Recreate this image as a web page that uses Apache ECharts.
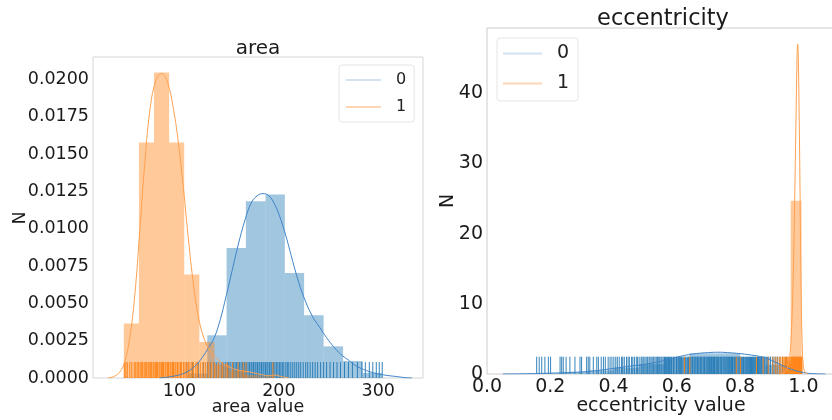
<!DOCTYPE html>
<html lang="en">
<head>
<meta charset="UTF-8">
<title>area / eccentricity</title>
<script src="https://cdn.jsdelivr.net/npm/echarts@6/dist/echarts.min.js"></script>
<style>
    *{margin:0;padding:0;}
    html,body{width:100%;height:100%;overflow:hidden;background:#fff;}
    #chart{width:832px;height:420px;}
</style>
</head>
<body>
<div id="chart"></div>
<script>
// tick labels
let areaTicks=[100,200,300];
let areaNTicks=[0,0.0025,0.005,0.0075,0.01,0.0125,0.015,0.0175,0.02];
let eccTicks=[0,0.2,0.4,0.6,0.8,1.0];
let eccNTicks=[0,10,20,30,40];

// area, class 0 (blue) - histogram bins [start, end, density]
let areaHist0=[[108.6,128,0.0003],[128,147.4,0.00286],[147.4,166.8,0.00871],[166.8,186.6,0.01184],[186.6,206,0.01229],
    [206,225.4,0.00704],[225.4,245,0.0042],[245,264.6,0.00212],[264.6,284.1,0.00114],[284.1,303.6,0.00034]];
let areaKde0=[[80,0],[92,0.0001],[104,0.0003],[114,0.0007],[121,0.0012],[128,0.0019],[135,0.0027],[141,0.0039],[147,0.0055],
    [153,0.0072],[159,0.0089],[166,0.0106],[172,0.0117],[178,0.0122],[184,0.01235],[190,0.0122],[196,0.0116],[202,0.0106],
    [208,0.0093],[214,0.0078],[220,0.0064],[227,0.0051],[234,0.0041],[241,0.0034],[248,0.0027],[255,0.0021],[262,0.0016],
    [270,0.0012],[278,0.0008],[288,0.0005],[298,0.0003],[308,0.00018],[318,0.0001],[328,0.00002],[334,0]];
let areaRug0=[107.5,113,119,124,128,131,134.5,137,139.5,142,144,146,148,149.5,151,153,154.5,156,157.5,159,160.5,162,163.5,165,166,
    167.5,169,170.5,172,173,174.5,176,177,178.5,180,181,182.5,184,185,186.5,188,189,190.5,192,193,194.5,196,197.5,199,200.5,202,
    203.5,205,207,208.5,210,212,214,216,218,220,222,224.5,227,229,231.5,234,236.5,239,242,245,248,251.5,255,258.5,262,266,270,274,
    279,283.5,287,291,294.5,298,301,304];

// area, class 1 (orange)
let areaHist1=[[44,59.2,0.00365],[59.2,74.4,0.01578],[74.4,89.6,0.02047],[89.6,104.8,0.01578],[104.8,120,0.00693],
    [120,135.2,0.00241],[135.2,150.4,0.0009],[150.4,165.6,0.0005],[165.6,180.8,0.0002],[180.8,196,0.0001]];
let areaKde1=[[28,0],[34,0.0001],[40,0.0004],[45,0.0011],[50,0.0027],[55,0.0055],[60,0.0098],[65,0.0143],[70,0.0178],[76,0.0199],
    [82,0.0204],[88,0.0198],[94,0.018],[99,0.0157],[104,0.0127],[109,0.0093],[114,0.0063],[119,0.0041],[125,0.0026],
    [132,0.0017],[141,0.0011],[151,0.0007],[161,0.0005],[171,0.0004],[181,0.00025],[190,0.00015],[196,0.0002],[202,0.0001],[210,0]];
let areaRug1=[44.5,46,47.5,50,52,54.5,56,57.5,59,60.5,62,63,64.5,66,67,68.5,69.5,71,72,73.5,74.5,76,77,78,79.5,80.5,82,83,84,85.5,
    86.5,88,89,90.5,91.5,93,94,95.5,96.5,98,99.5,101,102,104,105.5,107,109,110.5,112.5,114,116.5,118,121,123.5,126,129,132,135.5,
    139,143,148,153.5,159,164,167,194];

// eccentricity, class 0 (blue)
let eccHist0=[[0.16,0.24,0.1],[0.24,0.32,0.3],[0.32,0.4,0.5],[0.4,0.48,0.9],[0.48,0.56,1.4],[0.56,0.64,2.3],[0.64,0.72,2.95],
    [0.72,0.8,2.95],[0.8,0.88,2.4],[0.88,0.96,1.3]];
let eccKde0=[[0.05,0],[0.1,0.02],[0.15,0.06],[0.2,0.12],[0.25,0.2],[0.3,0.3],[0.35,0.5],[0.4,0.8],[0.45,1.1],[0.5,1.4],[0.55,1.8],
    [0.6,2.4],[0.65,2.85],[0.7,3.05],[0.73,3.1],[0.76,3.05],[0.8,2.9],[0.85,2.6],[0.88,2.3],[0.92,1.5],[0.96,0.7],[1.0,0.2],[1.04,0.03],[1.07,0]];
let eccRug0=[0.157,0.165,0.173,0.183,0.194,0.201,0.231,0.236,0.241,0.25,0.262,0.278,0.294,0.299,0.315,0.32,0.325,0.336,0.347,0.352,
    0.361,0.368,0.374,0.383,0.389,0.395,0.401,0.407,0.412,0.418,0.425,0.429,0.434,0.441,0.446,0.45,0.457,0.461,0.466,0.472,0.476,
    0.481,0.487,0.49,0.494,0.499,0.503,0.507,0.512,0.515,0.519,0.524,0.527,0.531,0.535,0.539,0.543,0.546,0.55,0.553,0.557,0.561,
    0.564,0.567,0.571,0.574,0.577,0.581,0.583,0.588,0.59,0.594,0.599,0.601,0.606,0.608,0.612,0.615,0.619,0.623,0.626,0.629,0.633,
    0.636,0.638,0.642,0.645,0.649,0.651,0.655,0.658,0.661,0.665,0.667,0.67,0.674,0.676,0.679,0.683,0.686,0.688,0.692,0.695,0.698,
    0.701,0.703,0.707,0.71,0.712,0.716,0.719,0.721,0.725,0.728,0.731,0.733,0.737,0.74,0.742,0.746,0.749,0.752,0.755,0.758,0.761,
    0.764,0.767,0.769,0.773,0.776,0.778,0.782,0.785,0.788,0.79,0.794,0.797,0.8,0.803,0.806,0.809,0.811,0.815,0.818,0.821,0.824,
    0.826,0.83,0.833,0.836,0.839,0.842,0.845,0.848,0.851,0.855,0.858,0.861,0.865,0.868,0.872,0.876,0.879,0.883,0.887,0.891,0.896,
    0.902,0.907,0.913,0.919,0.926,0.934,0.945];

// eccentricity, class 1 (orange)
let eccHist1=[[0.926,0.943,0.2],[0.943,0.96,1.9],[0.96,0.977,24.7],[0.977,0.994,24.7]];
let eccKde1=[[0.925,0],[0.94,0.2],[0.95,1],[0.958,3],[0.964,8],[0.969,16],[0.973,26],[0.977,37],[0.98,45],[0.982,47],[0.984,45],
    [0.987,36],[0.99,24],[0.993,12],[0.996,4.5],[1.0,1.2],[1.006,0.2],[1.015,0]];
let eccRug1=[0.624,0.641,0.788,0.801,0.852,0.873,0.889,0.903,0.911,0.917,0.924,0.929,0.934,0.938,0.941,0.944,0.947,0.949,0.952,
    0.955,0.957,0.96,0.962,0.965,0.967,0.969,0.972,0.974,0.976,0.978,0.98,0.982,0.984,0.986,0.988,0.99,0.992,0.994,0.996];

let font='DejaVu Sans';
let blue='#1f77b4', orange='#ff7f0e';

let chart=echarts.init(document.getElementById('chart'));

function histSeries(name,data,gi,color){
    return {
        name:name, type:'custom', xAxisIndex:gi, yAxisIndex:gi, clip:true,
        encode:{x:[0,1],y:2},
        data:data,
        renderItem:function(params,api){
            let p0=api.coord([api.value(0),api.value(2)]);
            let p1=api.coord([api.value(1),0]);
            return {type:'rect',shape:{x:p0[0],y:p0[1],width:p1[0]-p0[0],height:p1[1]-p0[1]},
                style:{fill:color,opacity:0.42}};
        }
    };
}
function kdeSeries(name,data,gi,color){
    return {
        name:name, type:'line', xAxisIndex:gi, yAxisIndex:gi, data:data,
        showSymbol:false, smooth:0.4,
        lineStyle:{color:color,width:1}, itemStyle:{color:color}
    };
}
function rugSeries(name,values,gi,h,color){
    return {
        name:name, type:'custom', xAxisIndex:gi, yAxisIndex:gi, clip:true,
        encode:{x:0,y:1},
        data:values.map(v=>[v,0]),
        renderItem:function(params,api){
            let a=api.coord([api.value(0),0]);
            let b=api.coord([api.value(0),h]);
            return {type:'line',shape:{x1:a[0],y1:a[1],x2:b[0],y2:b[1]},
                style:{stroke:color,lineWidth:1,opacity:0.9}};
        }
    };
}
function legendOf(left,top,size,w,pad){
    return {
        orient:'vertical', left:left, top:top, padding:pad, itemGap:9, itemWidth:w, itemHeight:2,
        borderColor:'#e4e4e4', borderWidth:1, borderRadius:3, backgroundColor:'#fff',
        textStyle:{fontFamily:font,fontSize:size,color:'#222',lineHeight:size+2,padding:[0,0,0,10]},
        data:[{name:'0',icon:'rect',itemStyle:{color:'#d3e2f1'}},{name:'1',icon:'rect',itemStyle:{color:'#ffd6b3'}}]
    };
}
// rotated "N" axis titles
function yName(x,y,size){
    return {type:'text',x:x,y:y,rotation:Math.PI/2,
        style:{text:'N',fontFamily:font,fontSize:size,fill:'#1a1a1a',align:'center',verticalAlign:'middle'}};
}

let options={
    animation:false,
    backgroundColor:'#fff',
    title:[
        {text:'area',left:258,top:39,textAlign:'center',padding:0,
            textStyle:{fontFamily:font,fontSize:20,fontWeight:'normal',color:'#1a1a1a'}},
        {text:'eccentricity',left:663,top:8,textAlign:'center',padding:0,
            textStyle:{fontFamily:font,fontSize:22.5,fontWeight:'normal',color:'#1a1a1a'}}
    ],
    graphic:[yName(20,218,17.5),yName(448,201,19)],
    legend:[legendOf(339,65,16,35,[6,8,6,7]),legendOf(497,38,19,39,[5,9,7,6])],
    grid:[
        {left:93,top:57,width:330,height:321,show:true,borderColor:'#d6d6d6',borderWidth:1,
            containLabel:false,outerBoundsMode:'none'},
        {left:487,top:28,width:348,height:346,show:true,borderColor:'#cccccc',borderWidth:1,
            containLabel:false,outerBoundsMode:'none'}
    ],
    xAxis:[
        {type:'value',gridIndex:0,min:13,max:345,
            name:'area value',nameLocation:'middle',nameGap:20,nameMoveOverlap:false,
            nameTextStyle:{fontFamily:font,fontSize:17.5,color:'#1a1a1a'},
            axisLine:{show:false},axisTick:{show:false},splitLine:{show:false},
            axisLabel:{customValues:areaTicks,fontFamily:font,fontSize:17.5,color:'#1a1a1a',margin:4}},
        {type:'value',gridIndex:1,min:0,max:1.1,
            name:'eccentricity value',nameLocation:'middle',nameGap:23,nameMoveOverlap:false,
            nameTextStyle:{fontFamily:font,fontSize:19,color:'#1a1a1a'},
            axisLine:{show:false},axisTick:{show:false},splitLine:{show:false},
            axisLabel:{customValues:eccTicks,fontFamily:font,fontSize:19,color:'#1a1a1a',margin:4,
                formatter:v=>v.toFixed(1)}}
    ],
    yAxis:[
        {type:'value',gridIndex:0,min:0,max:0.0215,
            axisLine:{show:false},axisTick:{show:false},splitLine:{show:false},
            axisLabel:{customValues:areaNTicks,fontFamily:font,fontSize:17.5,color:'#1a1a1a',margin:4,
                formatter:v=>v.toFixed(4)}},
        {type:'value',gridIndex:1,min:0,max:49.3,
            axisLine:{show:false},axisTick:{show:false},splitLine:{show:false},
            axisLabel:{customValues:eccNTicks,fontFamily:font,fontSize:19,color:'#1a1a1a',margin:4}}
    ],
    series:[
        histSeries('0',areaHist0,0,blue),
        kdeSeries('0',areaKde0,0,'#3f84c8'),
        rugSeries('0',areaRug0,0,0.00107,blue),
        histSeries('1',areaHist1,0,orange),
        kdeSeries('1',areaKde1,0,'#ffa04f'),
        rugSeries('1',areaRug1,0,0.00107,orange),
        histSeries('0',eccHist0,1,blue),
        kdeSeries('0',eccKde0,1,'#3f84c8'),
        rugSeries('0',eccRug0,1,2.465,blue),
        histSeries('1',eccHist1,1,orange),
        kdeSeries('1',eccKde1,1,'#ffa04f'),
        rugSeries('1',eccRug1,1,2.465,orange)
    ]
};
chart.setOption(options);
</script>
</body>
</html>
